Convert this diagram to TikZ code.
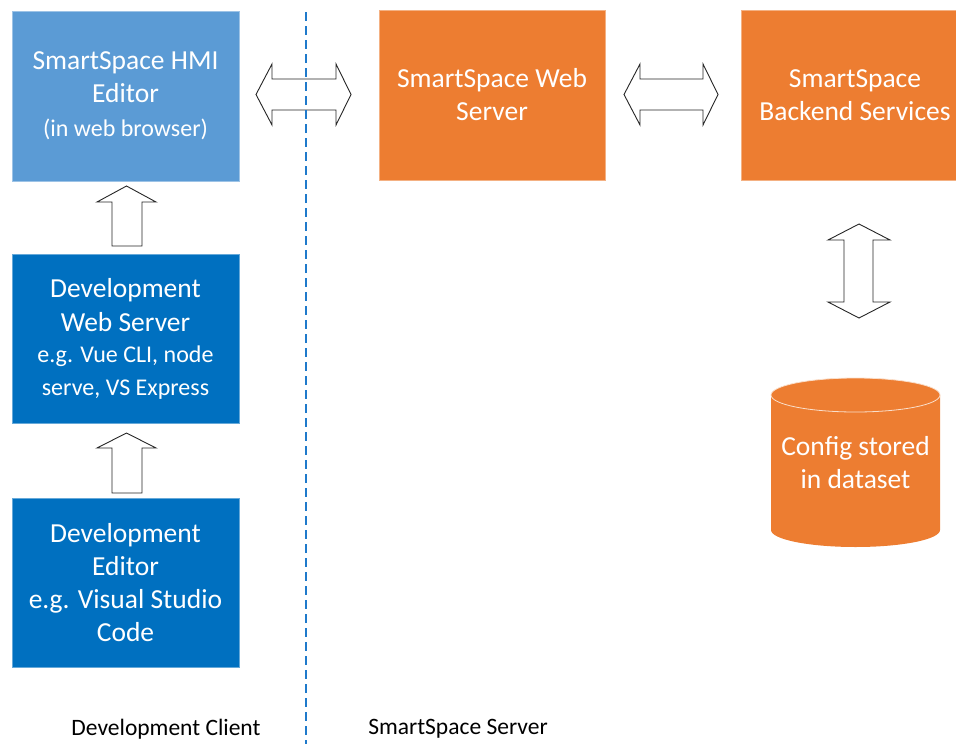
\documentclass[tikz,border=0pt]{standalone}
\usepackage{fontspec}
\setmainfont{Carlito}
\definecolor{hmiblue}{HTML}{5B9BD5}
\definecolor{devblue}{HTML}{0070C0}
\definecolor{ssorange}{HTML}{ED7D31}
\definecolor{dashblue}{HTML}{1F7ACB}
\begin{document}
\begin{tikzpicture}[x=1pt,y=-1pt,
  box/.style={rectangle, minimum width=227pt, minimum height=170pt, inner sep=0pt, align=center, text=white, font=\fontsize{27.5}{33}\selectfont},
  blockarrow/.style={draw=black!85, fill=white, line width=0.9pt, line join=miter},
  lbl/.style={font=\fontsize{23.5}{28}\selectfont, text=black, inner sep=0pt}]
\useasboundingbox (0,0) rectangle (956,744);
\clip (0,0) rectangle (956,744);
% boxes
\node[box, fill=hmiblue, draw=hmiblue!60!white, line width=0.8pt] (hmi) at (125.5,96) {SmartSpace HMI\\Editor\\[1pt]{\fontsize{24}{30}\selectfont (in web browser)}};
\node[box, fill=devblue, draw=devblue!60!white, line width=0.8pt, minimum height=169pt] (devweb) at (125.5,338.5) {Development\\[1pt]Web Server\\[-2pt]{\fontsize{24}{30}\selectfont e.g. Vue CLI, node}\\[0pt]{\fontsize{24}{30}\selectfont serve, VS Express}};
\node[box, fill=devblue, draw=devblue!60!white, line width=0.8pt, minimum height=169pt] (deved) at (125.5,582.5) {Development\\Editor\\e.g. Visual Studio\\Code};
\node[box, fill=ssorange, draw=ssorange!60!white, line width=0.8pt, minimum width=226pt] (web) at (492,95) {SmartSpace Web\\Server};
\node[box, fill=ssorange, draw=ssorange!60!white, line width=0.8pt, minimum width=228pt] (backend) at (855,95) {SmartSpace\\Backend Services};
% cylinder
\fill[ssorange] (771,395) -- (771,530) arc[start angle=180, end angle=360, x radius=84.5pt, y radius=17pt] -- (940,395) arc[start angle=0, end angle=180, x radius=84.5pt, y radius=17pt] -- cycle;
\draw[white!75!ssorange, line width=0.8pt] (855.5,395) ellipse [x radius=84.5pt, y radius=17pt];
\node[text=white, align=center, inner sep=0pt, font=\fontsize{27.5}{33}\selectfont] (db) at (855.5,462.5) {Config stored\\in dataset};
% block arrows
\draw[blockarrow] (256,94.5) -- (272,64) -- (272,79) -- (336,79) -- (336,64) -- (351,94.5) -- (336,125) -- (336,110) -- (272,110) -- (272,125) -- cycle;
\draw[blockarrow] (624,94.5) -- (640,64) -- (640,79) -- (703,79) -- (703,64) -- (718,94.5) -- (703,125) -- (703,110) -- (640,110) -- (640,125) -- cycle;
\draw[blockarrow] (859,224) -- (890,240) -- (873,240) -- (873,302) -- (890,302) -- (859,318) -- (828,302) -- (844,302) -- (844,240) -- (828,240) -- cycle;
\draw[blockarrow] (126.5,186) -- (156,202) -- (142,202) -- (142,246) -- (112,246) -- (112,202) -- (97,202) -- cycle;
\draw[blockarrow] (126.5,433) -- (156,448) -- (142,448) -- (142,493) -- (112,493) -- (112,448) -- (97,448) -- cycle;
% divider
\coordinate (divtop) at (306,12);
\coordinate (divbot) at (306,744);
\draw[dashblue, line width=2.4pt, dash pattern=on 9pt off 5pt] (divtop) -- (divbot);
% labels
\node[lbl] (client) at (166,729) {Development Client};
\node[lbl] (server) at (458,729) {SmartSpace Server};
\end{tikzpicture}
\end{document}
